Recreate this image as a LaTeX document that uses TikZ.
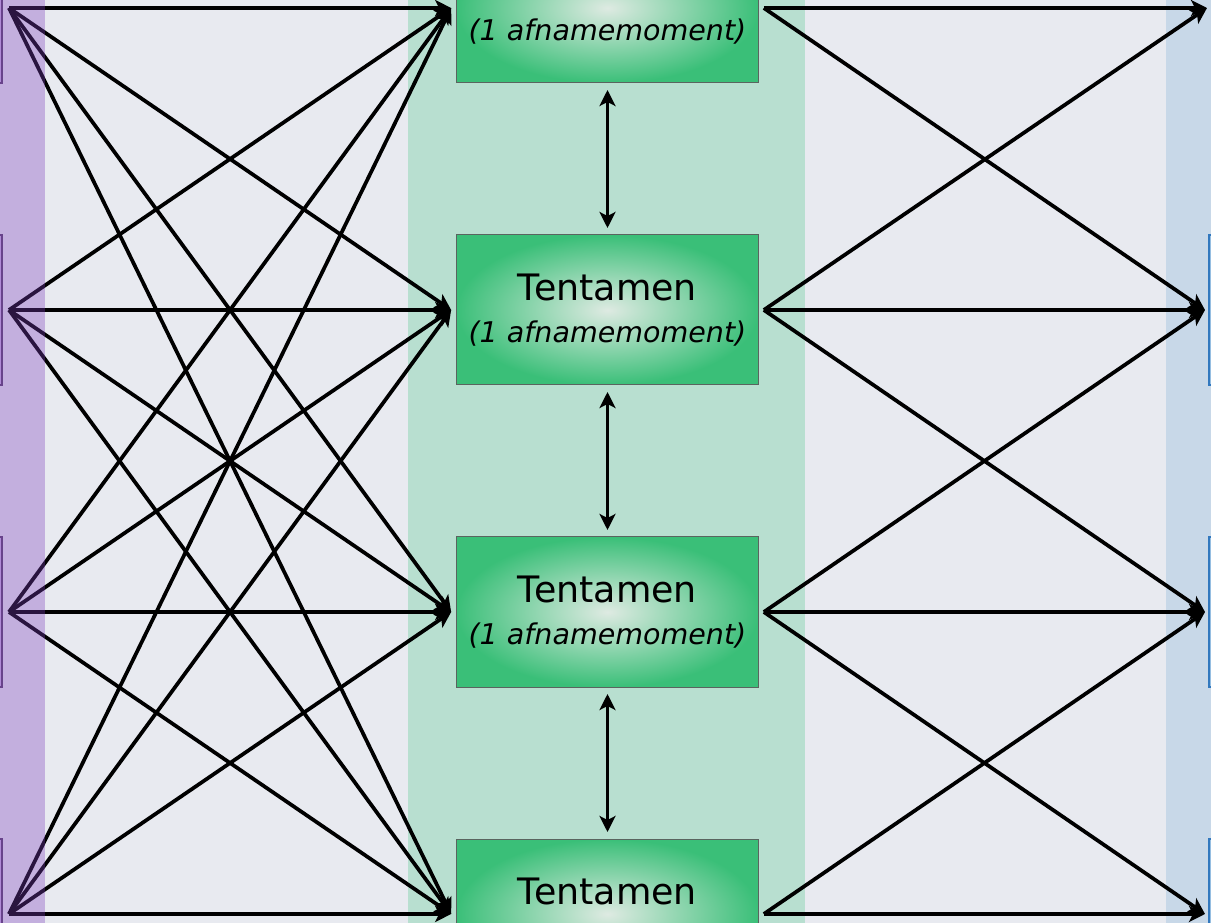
\documentclass[tikz,border=0pt]{standalone}
\usepackage{fontspec}
\setmainfont{DejaVu Sans}
\usetikzlibrary{arrows.meta}
\definecolor{achtergrond}{RGB}{232,234,240}
\definecolor{bandgroen}{RGB}{184,223,208}
\definecolor{bandblauw}{RGB}{200,216,232}
\definecolor{bandpaars}{RGB}{124,62,188}
\definecolor{toetsgroen}{RGB}{58,191,120}
\definecolor{toetslicht}{RGB}{222,234,226}
\definecolor{toetsrand}{RGB}{90,100,95}
\definecolor{doelrand}{RGB}{95,70,115}
\definecolor{cijferrand}{RGB}{50,120,190}
\definecolor{cijfervul}{RGB}{150,190,225}
\tikzset{>={Stealth[width=12pt,length=12pt,inset=3pt]}}
\tikzset{
  lijn/.style={line width=2.8pt},
  toets/.style={draw=toetsrand, line width=0.75pt, shading=radial, inner color=toetslicht, outer color=toetsgroen,
    minimum width=227pt, minimum height=112.5pt, outer xsep=3.75pt, outer ysep=5.25pt, align=center,
    font=\fontsize{27.3pt}{31.5pt}\selectfont},
  doel/.style={draw=doelrand, fill=bandpaars!40, line width=1.5pt, minimum width=112.5pt, minimum height=112.5pt, outer xsep=5.25pt},
  cijfer/.style={draw=cijferrand, fill=cijfervul, line width=1.5pt, minimum width=112.5pt, minimum height=112.5pt, outer xsep=3pt},
}
\newcommand{\afname}{{\fontsize{21.4pt}{31.5pt}\selectfont\itshape (1 afnamemoment)}}
\begin{document}
\begin{tikzpicture}[x=0.75pt,y=-0.75pt]
			\useasboundingbox (0,0) rectangle (1211,923);
			\clip (0,0) rectangle (1211,923);
			% banden
			\fill[achtergrond] (0,0) rectangle (1211,923);
			\fill[bandgroen] (408,0) rectangle (805,923);
			\fill[bandblauw] (1166,0) rectangle (1211,923);
			
			% links
			\node[doel] (L1) at (-73,8) {};
			\node[doel] (L2) at (-73,310) {};
			\node[doel] (L3) at (-73,612) {};
			\node[doel] (L4) at (-73,914) {};
			
			% tentamens
			\node[toets] (T1) at (607.5,8) {Tentamen\\\afname};
			\node[toets] (T2) at (607.5,310) {Tentamen\\\afname};
			\node[toets] (T3) at (607.5,612) {Tentamen\\\afname};
			\node[toets] (T4) at (607.5,914) {Tentamen\\\afname};
			
			% rechts
			\coordinate (R1) at (1207,8);
			\node[cijfer] (R2) at (1284,310) {};
			\node[cijfer] (R3) at (1284,612) {};
			\node[cijfer] (R4) at (1284,914) {};
			
			\draw[lijn,->] (L1.east) -- (T1.west);
			\draw[lijn,->] (L1.east) -- (T2.west);
			\draw[lijn,->] (L1.east) -- (T3.west);
			\draw[lijn,->] (L1.east) -- (T4.west);
			\draw[lijn,->] (L2.east) -- (T1.west);
			\draw[lijn,->] (L2.east) -- (T2.west);
			\draw[lijn,->] (L2.east) -- (T3.west);
			\draw[lijn,->] (L2.east) -- (T4.west);
			\draw[lijn,->] (L3.east) -- (T1.west);
			\draw[lijn,->] (L3.east) -- (T2.west);
			\draw[lijn,->] (L3.east) -- (T3.west);
			\draw[lijn,->] (L3.east) -- (T4.west);
			\draw[lijn,->] (L4.east) -- (T1.west);
			\draw[lijn,->] (L4.east) -- (T2.west);
			\draw[lijn,->] (L4.east) -- (T3.west);
			\draw[lijn,->] (L4.east) -- (T4.west);
			
			\draw[lijn,<->] (T1.south) -- (T2.north);
			\draw[lijn,<->] (T2.south) -- (T3.north);
			\draw[lijn,<->] (T3.south) -- (T4.north);
			
			\draw[lijn,->] (T1.east) -- (R1);
			\draw[lijn,->] (T1.east) -- (R2.west);
			\draw[lijn,->] (T2.east) -- (R1);
			\draw[lijn,->] (T2.east) -- (R2.west);
			\draw[lijn,->] (T2.east) -- (R3.west);
			\draw[lijn,->] (T3.east) -- (R2.west);
			\draw[lijn,->] (T3.east) -- (R3.west);
			\draw[lijn,->] (T3.east) -- (R4.west);
			\draw[lijn,->] (T4.east) -- (R3.west);
			\draw[lijn,->] (T4.east) -- (R4.west);
			
			% paarse band over de lijnen
			\fill[bandpaars,opacity=0.34] (0,0) rectangle (45,923);
			\end{tikzpicture}
\end{document}
